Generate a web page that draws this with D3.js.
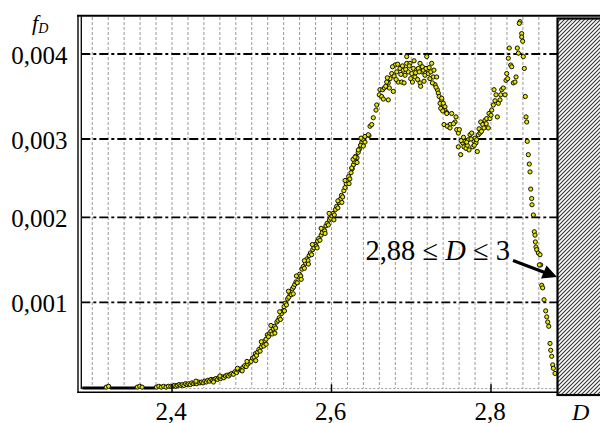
<!DOCTYPE html>
<html><head><meta charset="utf-8">
<script src="https://cdn.jsdelivr.net/npm/d3@7"></script>
<style>html,body{margin:0;padding:0;background:#fff;} svg{display:block;}</style>
</head><body>
<svg id="c" width="600" height="423"></svg>
<script>
// ---------- data ----------
const xTicks = [2.4, 2.6, 2.8];
const xTickLabels = ["2,4", "2,6", "2,8"];
const yTicks = [0.001, 0.002, 0.003, 0.004];
const yTickLabels = ["0,001", "0,002", "0,003", "0,004"];
const excludedRange = [2.88, 3];

const tail = [[2.2875,0],[2.2905,0],[2.2935,0],[2.2965,0],[2.2995,0],[2.3025,0],[2.3055,0],[2.3085,0],[2.3115,0],[2.3145,0],[2.3175,0.00001],[2.3205,0.00002],[2.3235,0],[2.3265,0],[2.3295,0],[2.3325,0],[2.3355,0],[2.3385,0],[2.3415,0],[2.3445,0],[2.3475,0],[2.3505,0],[2.3535,0],[2.3565,0.00001],[2.3595,0.00002],[2.3625,0.00001],[2.3655,0],[2.3685,0],[2.3715,0],[2.3745,0],[2.3775,0],[2.3805,0.00001],[2.3835,0.00002],[2.3865,0.00001],[2.3895,0.00002],[2.3925,0.00001],[2.3955,0.00002],[2.3985,0.00002]];

const rise1 = [[2.401,0.00002],[2.403,0.00003],[2.405,0.00002],[2.407,0.00003],[2.409,0.00004],[2.411,0.00003],[2.413,0.00004],[2.415,0.00003],[2.417,0.00005],[2.419,0.00004],[2.421,0.00005],[2.423,0.00004],[2.425,0.00006],[2.427,0.00005],[2.429,0.00006],[2.431,0.00005],[2.433,0.00007],[2.435,0.00006],[2.437,0.00007],[2.439,0.00006],[2.441,0.00008],[2.443,0.00007],[2.445,0.00009],[2.447,0.00008],[2.449,0.00010],[2.451,0.00009],[2.453,0.00010],[2.455,0.00011],[2.457,0.00010],[2.459,0.00012],[2.461,0.00011],[2.463,0.00013],[2.465,0.00012],[2.467,0.00014],[2.469,0.00015],[2.471,0.00014],[2.473,0.00016],[2.475,0.00017],[2.477,0.00016],[2.479,0.00019],[2.481,0.00018],[2.483,0.00021],[2.485,0.00022],[2.487,0.00021],[2.489,0.00024],[2.491,0.00026],[2.493,0.00025],[2.495,0.00028],[2.497,0.00030],[2.499,0.00031],
[2.430,0.00008],[2.452,0.00007],[2.460,0.00014],[2.482,0.00023],[2.488,0.00020],[2.494,0.00031]];

const rise2 = [[2.5010,0.00035],[2.5030,0.00036],[2.5045,0.00040],[2.5060,0.00038],[2.5075,0.00042],[2.5090,0.00045],[2.5105,0.00043],[2.5120,0.00048],[2.5135,0.00051],[2.5150,0.00049],[2.5165,0.00055],[2.5180,0.00057],[2.5195,0.00062],[2.5210,0.00060],[2.5225,0.00064],[2.5240,0.00066],[2.5255,0.00063],[2.5270,0.00069],[2.5285,0.00072],[2.5300,0.00070],[2.5315,0.00077],[2.5330,0.00079],[2.5345,0.00082],[2.5360,0.00080],[2.5375,0.00087],[2.5390,0.00090],[2.5405,0.00095],[2.5420,0.00099],[2.5435,0.00097],[2.5450,0.00104],[2.5465,0.00106],[2.5480,0.00110],[2.5495,0.00109],[2.5510,0.00116],[2.5525,0.00118],[2.5540,0.00121],[2.5555,0.00124],[2.5570,0.00123],[2.5585,0.00130],[2.5600,0.00133],[2.5615,0.00131],[2.5630,0.00139],[2.5645,0.00142],[2.5660,0.00140],[2.5675,0.00146],[2.5690,0.00151],[2.5705,0.00149],[2.5720,0.00155],[2.5735,0.00158],[2.5750,0.00156],[2.5765,0.00162],[2.5780,0.00164],[2.5795,0.00168],[2.5810,0.00166],[2.5825,0.00172],[2.5840,0.00175],[2.5855,0.00173],[2.5870,0.00179],[2.5885,0.00182],[2.5900,0.00186],[2.5915,0.00184],[2.5930,0.00190],[2.5945,0.00193],[2.5960,0.00191],[2.5975,0.00197],[2.5990,0.00199],[2.6005,0.00202],[2.6020,0.00205],[2.6035,0.00203],[2.6050,0.00210],[2.6065,0.00214],[2.6080,0.00212],[2.6095,0.00219],[2.6110,0.00223],[2.6125,0.00228],[2.6140,0.00226],[2.6155,0.00234],[2.6170,0.00238],[2.6185,0.00243],[2.6200,0.00247],[2.6215,0.00252],[2.6230,0.00249],[2.6245,0.00257],[2.6260,0.00262],[2.6275,0.00267],[2.6290,0.00271],[2.6305,0.00278],[2.6320,0.00276],[2.6335,0.00283],[2.6350,0.00287],[2.6365,0.00292],[2.6380,0.00296],[2.6395,0.00299]];

const riseScatter = [[2.505,0.00032],[2.512,0.00054],[2.518,0.00051],[2.524,0.00073],[2.529,0.00064],[2.535,0.00089],[2.541,0.00090],[2.546,0.00113],[2.552,0.00110],[2.556,0.00131],[2.562,0.00127],[2.566,0.00149],[2.571,0.00145],[2.576,0.00168],[2.582,0.00164],[2.587,0.00187],[2.592,0.00181],[2.597,0.00205],[2.603,0.00197],[2.608,0.00221],[2.613,0.00219],[2.617,0.00247],[2.622,0.00243],[2.627,0.00274],[2.632,0.00270],[2.637,0.00301],[2.642,0.00296],[2.647,0.00304]];

const peak = [[2.6253,0.00263],[2.6295,0.00277],[2.6336,0.00286],[2.6366,0.00292],[2.6399,0.00291],[2.6420,0.00303],[2.6461,0.00305],[2.6483,0.00315],[2.6504,0.00317],[2.6524,0.00325],[2.6558,0.00334],[2.6567,0.00340],[2.6599,0.00352],[2.6608,0.00358],[2.6642,0.00358],[2.6662,0.00360],[2.6629,0.00350],[2.6712,0.00346],[2.6712,0.00366],[2.6692,0.00367],[2.6734,0.00371],[2.6755,0.00377],[2.6775,0.00356],[2.6796,0.00387],[2.6818,0.00379],[2.6838,0.00367],[2.6859,0.00383],[2.6880,0.00367],[2.6900,0.00381],[2.6922,0.00375],[2.6943,0.00397],[2.6943,0.00389],[2.6963,0.00379],[2.6984,0.00389],[2.6993,0.00371],[2.7006,0.00377],[2.7026,0.00383],[2.7047,0.00373],[2.7068,0.00381],[2.7088,0.00383],[2.7110,0.00389],[2.7110,0.00366],[2.7118,0.00362],[2.7131,0.00379],[2.7151,0.00381],[2.7172,0.00375],[2.7194,0.00397],[2.7201,0.00381],[2.7214,0.00377],[2.7235,0.00371],[2.7256,0.00389],[2.7276,0.00373],[2.7298,0.00364],[2.7319,0.00373],[2.7327,0.00358],[2.7339,0.00354],[2.7361,0.00342],[2.7382,0.00346],[2.7402,0.00338],[2.7423,0.00334],[2.7445,0.00331],[2.7465,0.00315],[2.7486,0.00317],
[2.6650,0.00347],[2.6680,0.00362],[2.6700,0.00372],[2.6725,0.00360],[2.6765,0.00385],[2.6785,0.00374],[2.6810,0.00370],[2.6830,0.00388],[2.6870,0.00376],[2.6890,0.00386],[2.6910,0.00366],[2.6930,0.00382],[2.6975,0.00386],[2.7015,0.00367],[2.7035,0.00392],[2.7055,0.00378],[2.7080,0.00370],[2.7100,0.00379],[2.7140,0.00385],[2.7160,0.00368],[2.7185,0.00383],[2.7225,0.00384],[2.7245,0.00379],[2.7265,0.00366],[2.7285,0.00381],[2.7310,0.00361],[2.7350,0.00350],[2.7370,0.00336],[2.7395,0.00333]];

const dip = [[2.7382,0.00348],[2.7402,0.00342],[2.7423,0.00338],[2.7445,0.00330],[2.7411,0.00317],[2.7452,0.00315],[2.7486,0.00313],[2.7507,0.00330],[2.7549,0.00320],[2.7561,0.00326],[2.7570,0.00311],[2.7590,0.00307],[2.7603,0.00311],[2.7590,0.00290],[2.7620,0.00280],[2.7645,0.00295],[2.7661,0.00290],[2.7674,0.00297],[2.7687,0.00288],[2.7703,0.00292],[2.7715,0.00299],[2.7737,0.00305],[2.7758,0.00307],[2.7771,0.00290],[2.7787,0.00297],[2.7799,0.00301],[2.7812,0.00295],[2.7828,0.00284],[2.7841,0.00305],[2.7862,0.00307],[2.7871,0.00320],[2.7896,0.00317],[2.7912,0.00313],[2.7925,0.00322],[2.7946,0.00324],[2.7966,0.00313],[2.7987,0.00324],[2.8009,0.00334],[2.8029,0.00340],[2.8038,0.00358],[2.8063,0.00352],[2.8079,0.00326],[2.8092,0.00342],[2.8113,0.00346],[2.8122,0.00352],[2.8134,0.00358],[2.8154,0.00360],[2.8176,0.00352],
[2.7530,0.00318],[2.7625,0.00298],[2.7655,0.00302],[2.7695,0.00296],[2.7725,0.00286],[2.7750,0.00300],[2.7790,0.00292],[2.7820,0.00299],[2.7850,0.00312],[2.7880,0.00309],[2.7940,0.00318],[2.7975,0.00330],[2.8000,0.00328],[2.8050,0.00345]];

const spike = [[2.8188,0.00369],[2.8209,0.00371],[2.8197,0.00377],[2.8229,0.00407],[2.8217,0.00395],[2.8247,0.00387],[2.8260,0.00385],[2.8280,0.00366],[2.8301,0.00367],[2.8314,0.00373],[2.8330,0.00407],[2.8343,0.00401],[2.8364,0.00438],[2.8355,0.00436],[2.8385,0.00424],[2.8385,0.00420],[2.8397,0.00415],[2.8405,0.00397],[2.8418,0.00383],[2.8430,0.00350],[2.8439,0.00326],[2.8448,0.00320],[2.8455,0.00297],[2.8468,0.00280]];

const fall = [[2.8480,0.00268],[2.8489,0.00258],[2.8498,0.00236],[2.8510,0.00224],[2.8514,0.00216],[2.8531,0.00203],[2.8543,0.00183],[2.8552,0.00179],[2.8556,0.00171],[2.8564,0.00165],[2.8573,0.00162],[2.8593,0.00158],[2.8615,0.00156],[2.8623,0.00144],[2.8606,0.00144],[2.8636,0.00120],[2.8648,0.00117],[2.8665,0.00103],[2.8686,0.00090],[2.8699,0.00083],[2.8711,0.00077],[2.8724,0.00072],[2.8740,0.00052],[2.8749,0.00044],[2.8761,0.00037],[2.8774,0.00027],[2.8782,0.00023],[2.8803,0.00017]];

// ---------- layout ----------
const svg = d3.select("#c");
const FONT = "Liberation Serif, Times New Roman, Times, serif";
const plotLeft = 81.3, plotRight = 557, plotTop = 17, axisY = 392.3;

const x = d3.scaleLinear().domain([2.4, 2.8]).range([172, 491]);
const y = d3.scaleLinear().domain([0].concat(yTicks)).range([388, 302.3, 217.3, 139, 54]);

// hatch pattern
const defs = svg.append("defs");
const pat = defs.append("pattern").attr("id","hatch").attr("patternUnits","userSpaceOnUse")
  .attr("width",4).attr("height",4);
pat.append("rect").attr("width",4).attr("height",4).attr("fill","#fff");
pat.append("path").attr("d","M-1,1 l2,-2 M0,4 l4,-4 M3,5 l2,-2")
  .attr("stroke","#333").attr("stroke-width",1.1);

// vertical grid
const gridD = d3.range(2.30, 2.865, 0.02);
svg.append("g").selectAll("line").data(gridD).join("line")
  .attr("x1", d => x(d)).attr("x2", d => x(d))
  .attr("y1", plotTop).attr("y2", y(0))
  .attr("stroke", "#9a9a9a").attr("stroke-width", 1).attr("stroke-dasharray", "3,2");

// zero gridline
svg.append("line").attr("x1", plotLeft).attr("x2", plotRight).attr("y1", y(0)+0.5).attr("y2", y(0)+0.5)
  .attr("stroke", "#9a9a9a").attr("stroke-width", 1).attr("stroke-dasharray", "2,2");

// horizontal dash-dot lines
svg.append("g").selectAll("line").data(yTicks).join("line")
  .attr("x1", plotLeft).attr("x2", plotRight)
  .attr("y1", d => y(d)).attr("y2", d => y(d))
  .attr("stroke", "#000").attr("stroke-width", 1.8)
  .attr("stroke-dasharray", "9,3,3,3");

// tail line (dense points at zero)
svg.append("path").datum(tail)
  .attr("d", d3.line().x(d => x(d[0])).y(d => y(d[1])))
  .attr("fill","none").attr("stroke","#000").attr("stroke-width",3);

// points
const pts = tail.filter(d => d[1] > 0).concat(rise1, rise2, riseScatter, peak, dip, spike, fall);
svg.append("g").selectAll("circle").data(pts).join("circle")
  .attr("cx", d => x(d[0])).attr("cy", d => y(d[1])).attr("r", 2.1)
  .attr("fill", "#e6e600").attr("stroke", "#111100").attr("stroke-width", 1);

// frame
svg.append("line").attr("x1",77).attr("x2",600).attr("y1",15.8).attr("y2",15.8).attr("stroke","#000").attr("stroke-width",2);
svg.append("line").attr("x1",78).attr("x2",78).attr("y1",15).attr("y2",393).attr("stroke","#000").attr("stroke-width",1.4);
svg.append("line").attr("x1",plotLeft).attr("x2",plotLeft).attr("y1",16.5).attr("y2",389).attr("stroke","#000").attr("stroke-width",1.3);
svg.append("line").attr("x1",77.3).attr("x2",plotRight).attr("y1",axisY).attr("y2",axisY).attr("stroke","#000").attr("stroke-width",1.6);

// excluded region
svg.append("rect").attr("x", plotRight+0.5).attr("y", 18.5).attr("width", 60).attr("height", 376.5)
  .attr("fill","url(#hatch)").attr("stroke","#000").attr("stroke-width",2.2);

// x ticks
svg.append("g").selectAll("line").data(xTicks).join("line")
  .attr("x1", d => x(d)).attr("x2", d => x(d)).attr("y1", axisY).attr("y2", axisY-8)
  .attr("stroke","#000").attr("stroke-width",1.5);
svg.append("g").selectAll("text").data(xTicks).join("text")
  .attr("x", d => x(d)-1).attr("y", 419.5).attr("text-anchor","middle")
  .attr("font-family",FONT).attr("font-size",25).text((d,i) => xTickLabels[i]);

// y tick labels
svg.append("g").selectAll("text").data(yTicks).join("text")
  .attr("x", 67.5).attr("y", d => y(d)+10).attr("text-anchor","end")
  .attr("font-family",FONT).attr("font-size",25).text((d,i) => yTickLabels[i]);

// axis titles
const fl = svg.append("text").attr("x",32).attr("y",30).attr("font-family",FONT).attr("font-style","italic");
fl.append("tspan").attr("font-size",22).text("f");
fl.append("tspan").attr("font-size",14).attr("dy",3).text("D");
svg.append("text").attr("x",572).attr("y",419.5).attr("font-family",FONT).attr("font-style","italic")
  .attr("font-size",24).text("D");

// annotation
const ann = svg.append("text").attr("x",510).attr("y",260).attr("text-anchor","end")
  .attr("font-family",FONT).attr("font-size",28.5);
ann.append("tspan").text(String(excludedRange[0]).replace(".", ",") + " \u2264 ");
ann.append("tspan").attr("font-style","italic").text("D");
ann.append("tspan").text(" \u2264 " + excludedRange[1]);

// arrow
svg.append("line").attr("x1",513).attr("y1",260.5).attr("x2",546).attr("y2",273)
  .attr("stroke","#000").attr("stroke-width",3);
svg.append("path").attr("d","M557,277 L541,278.5 L546.5,265.5 Z").attr("fill","#000");
</script>
</body></html>
